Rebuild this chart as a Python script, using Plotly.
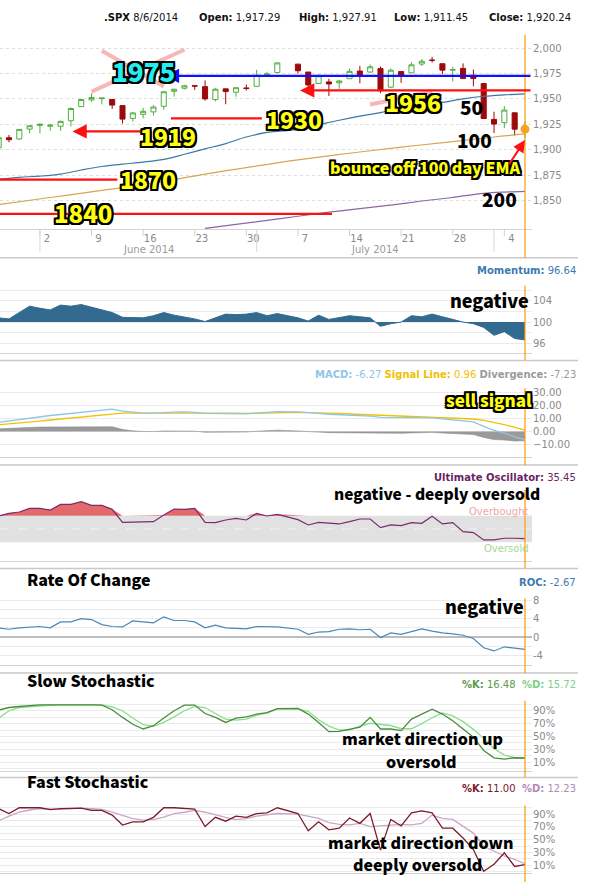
import numpy as np
import plotly.graph_objects as go
from plotly.subplots import make_subplots

W, H = 590, 882
PW = 532  # plot width in px (margin l=0, r=58)

# ---------------- data ----------------
dates = ["2014-05-27", "2014-05-28", "2014-05-29", "2014-05-30",
         "2014-06-02", "2014-06-03", "2014-06-04", "2014-06-05", "2014-06-06",
         "2014-06-09", "2014-06-10", "2014-06-11", "2014-06-12", "2014-06-13",
         "2014-06-16", "2014-06-17", "2014-06-18", "2014-06-19", "2014-06-20",
         "2014-06-23", "2014-06-24", "2014-06-25", "2014-06-26", "2014-06-27",
         "2014-06-30", "2014-07-01", "2014-07-02", "2014-07-03",
         "2014-07-07", "2014-07-08", "2014-07-09", "2014-07-10", "2014-07-11",
         "2014-07-14", "2014-07-15", "2014-07-16", "2014-07-17", "2014-07-18",
         "2014-07-21", "2014-07-22", "2014-07-23", "2014-07-24", "2014-07-25",
         "2014-07-28", "2014-07-29", "2014-07-30", "2014-07-31", "2014-08-01",
         "2014-08-04", "2014-08-05", "2014-08-06"]

opens = [1902.0, 1911.8, 1910.6, 1920.3, 1923.9, 1923.1, 1923.1, 1928.5, 1942.4,
         1949.0, 1950.3, 1949.4, 1943.4, 1930.8, 1934.8, 1937.2, 1942.7, 1957.5, 1960.5,
         1962.9, 1962.0, 1949.3, 1959.9, 1956.6, 1960.8, 1962.3, 1973.1, 1975.9,
         1984.2, 1976.4, 1965.1, 1966.7, 1965.8, 1969.9, 1977.4, 1976.4, 1979.8, 1961.5,
         1976.9, 1975.7, 1984.3, 1988.1, 1984.6, 1978.3, 1980.0, 1973.2, 1965.1, 1929.8,
         1926.6, 1936.3, 1917.29]
highs = [1912.3, 1914.5, 1920.0, 1924.0, 1925.9, 1925.1, 1928.6, 1941.7, 1949.4,
         1955.6, 1950.9, 1949.4, 1943.4, 1937.3, 1941.2, 1943.7, 1957.7, 1959.9, 1963.9,
         1963.7, 1968.2, 1960.8, 1959.9, 1961.5, 1964.2, 1978.6, 1976.7, 1985.6,
         1984.2, 1976.4, 1974.2, 1969.8, 1968.7, 1979.9, 1982.5, 1983.9, 1981.8, 1979.9,
         1976.9, 1986.2, 1989.2, 1991.4, 1984.6, 1981.5, 1984.9, 1978.9, 1965.1, 1937.4,
         1942.9, 1936.3, 1927.91]
lows = [1902.0, 1907.3, 1909.8, 1916.0, 1916.0, 1918.8, 1918.6, 1922.9, 1942.4,
        1947.2, 1944.6, 1940.1, 1925.8, 1927.7, 1930.9, 1933.6, 1939.3, 1952.3, 1959.2,
        1958.9, 1948.3, 1947.5, 1944.7, 1952.2, 1958.2, 1962.3, 1972.6, 1975.9,
        1974.9, 1959.5, 1965.1, 1952.9, 1959.6, 1969.9, 1965.3, 1975.7, 1955.6, 1960.8,
        1965.8, 1975.7, 1982.4, 1985.8, 1974.4, 1967.3, 1970.0, 1962.4, 1930.7, 1916.4,
        1921.2, 1913.8, 1911.45]
closes = [1911.9, 1909.8, 1920.0, 1923.6, 1925.0, 1924.2, 1927.9, 1940.5, 1949.4,
          1951.3, 1950.8, 1943.9, 1930.1, 1936.2, 1937.8, 1942.0, 1957.0, 1959.5, 1962.9,
          1962.6, 1950.0, 1959.5, 1957.2, 1961.0, 1960.2, 1973.3, 1974.6, 1985.4,
          1977.7, 1963.7, 1972.8, 1964.7, 1967.6, 1977.1, 1973.3, 1981.6, 1958.1, 1978.2,
          1973.6, 1983.5, 1987.0, 1988.0, 1978.3, 1978.9, 1970.0, 1970.1, 1930.7, 1925.2,
          1939.0, 1920.2, 1920.24]

ma50_dates = ["2014-05-27", "2014-05-29", "2014-06-02", "2014-06-04", "2014-06-06",
              "2014-06-10", "2014-06-12", "2014-06-16", "2014-06-18", "2014-06-20",
              "2014-06-24", "2014-06-26", "2014-06-30", "2014-07-02", "2014-07-07",
              "2014-07-09", "2014-07-11", "2014-07-15", "2014-07-17", "2014-07-21",
              "2014-07-23", "2014-07-25", "2014-07-29", "2014-07-31", "2014-08-04",
              "2014-08-06"]
ma50 = [1871, 1872.8, 1874, 1876, 1880, 1883.5, 1885.8, 1887.8, 1890.5, 1895.5,
        1900.8, 1906, 1912.5, 1917, 1920, 1924.5, 1929, 1933, 1936.5, 1940.5,
        1943.5, 1946.5, 1950, 1952.6, 1954, 1955]

ema100_dates = ["2014-05-27", "2014-06-03", "2014-06-10", "2014-06-17", "2014-06-24",
                "2014-07-01", "2014-07-07", "2014-07-14", "2014-07-21", "2014-07-28",
                "2014-08-01", "2014-08-06"]
ema100 = [1846, 1853, 1860, 1867, 1876, 1884, 1890, 1896.5, 1902.5, 1908, 1912.5, 1915.5]

sma200_dates = ["2014-06-24", "2014-06-27", "2014-07-02", "2014-07-07", "2014-07-10",
                "2014-07-15", "2014-07-18", "2014-07-23", "2014-07-28", "2014-07-31",
                "2014-08-04", "2014-08-06"]
sma200 = [1822.5, 1826.5, 1830.5, 1834.5, 1838.5, 1842, 1845.5, 1849.5, 1853, 1857,
          1858.3, 1859]

momentum = [100.8, 100.6, 101.8, 103.0, 102.6, 102.3, 103.2, 103.0, 103.3, 102.8,
            102.3, 101.8, 100.9, 100.8, 100.8, 101.2, 101.8, 101.3, 101.0, 100.6,
            100.1, 100.8, 101.5, 101.4, 101.5, 101.8, 101.2, 101.6,
            100.8, 100.2, 101.3, 100.5, 100.9, 101.2, 101.0, 100.8, 99.2, 99.7,
            100.0, 101.2, 101.0, 101.5, 101.0, 100.5, 100.0, 99.7, 99.0, 97.5,
            98.2, 96.9, 96.64]

macd = [7.2, 8.3, 9.3, 10.4, 11.5, 12.4, 13.2, 14.0, 15.0, 16.0, 16.9, 17.4, 15.8,
        14.8, 14.3, 14.2, 14.8, 15.0, 15.2, 14.9, 14.0, 13.9, 13.7, 13.8, 13.7, 14.3,
        14.6, 15.4,
        15.2, 14.4, 14.0, 13.4, 13.0, 12.6, 12.2, 12.0, 11.0, 11.0, 10.6, 10.6, 10.6,
        10.6, 9.8, 9.2, 8.2, 7.4, 4.0, 0.8, -1.2, -4.2, -6.27]
signal = [5.2, 5.8, 6.5, 7.3, 8.1, 8.9, 9.7, 10.5, 11.3, 12.2, 13.0, 13.8, 14.2,
          14.3, 14.3, 14.3, 14.4, 14.5, 14.6, 14.7, 14.6, 14.5, 14.3, 14.2, 14.1, 14.1,
          14.2, 14.4,
          14.8, 14.7, 14.5, 14.3, 14.0, 13.6, 13.3, 13.0, 12.6, 12.3, 12.0, 11.7, 11.5,
          11.3, 11.0, 10.7, 10.2, 9.7, 8.6, 7.1, 5.4, 3.2, 0.96]
divergence = [2.0, 2.5, 2.8, 3.1, 3.4, 3.5, 3.5, 3.5, 3.7, 3.8, 3.9, 3.6, 1.6, 0.5,
              0.0, -0.1, 0.4, 0.5, 0.6, 0.2, -0.6, -0.6, -0.6, -0.4, -0.4, 0.2, 0.4, 1.0,
              0.4, -0.3, -0.5, -0.9, -1.0, -1.0, -1.1, -1.0, -1.6, -1.3, -1.4, -1.1,
              -0.9, -0.7, -1.2, -1.5, -2.0, -2.3, -4.6, -6.3, -6.6, -7.4, -7.23]

ult_osc = [69.5, 73.5, 75.5, 81, 81, 78.5, 87, 87, 91, 85.5, 85.5, 79.5, 60, 60, 60.5,
           61, 71, 80, 79.5, 81, 60, 59.5, 63.5, 66, 63.5, 73.5, 69.5, 72,
           64, 56, 60, 58.5, 57.5, 61, 65, 65, 52, 56, 55, 59.5, 58.5, 69, 57.5, 59.5,
           46, 44.5, 33.5, 33.5, 36, 36, 35.45]

roc = [2.0, 1.7, 2.0, 2.2, 2.3, 2.0, 3.3, 3.3, 4.0, 3.8, 2.7, 2.3, 2.2, 3.5, 3.3, 3.1,
       4.4, 3.6, 3.6, 3.3, 2.0, 2.6, 2.0, 1.9, 1.8, 2.3, 2.3, 2.2,
       1.7, 0.6, 1.1, 1.2, 1.7, 1.8, 1.6, 1.7, -0.1, 0.9, 0.6, 1.2, 1.8, 1.3, 0.9, 0.7,
       0.4, -0.3, -2.3, -3.0, -2.1, -2.4, -2.67]

slow_k = [91, 95, 96.6, 98, 99, 99, 99.2, 99.3, 99.3, 99, 98.6, 91.5, 79.6, 69, 61.6,
          66.7, 78.6, 90, 98.8, 98.8, 85.7, 79.6, 71.8, 78.6, 80.5, 84.7, 87.2, 93.4,
          93.5, 84.8, 71.8, 57.4, 58, 61, 64.5, 79.6, 61.6, 61.6, 59, 77, 84.8, 92.5,
          84.8, 74.4, 61.6, 48.8, 28.1, 16.8, 14.7, 16.8, 16.48]
slow_d = [78.6, 90, 95, 96.5, 97.5, 98.5, 99, 99.2, 99.2, 99.2, 99, 96, 90, 78.6, 68.3,
          65.7, 71.8, 80.5, 90, 96.6, 95, 85.7, 77, 75.3, 77, 83, 86.2, 92.4,
          92.5, 89, 76, 66, 60, 60, 66, 70.5, 69, 67, 62, 62, 70, 79, 86.5, 82, 73, 61,
          47, 31, 21, 17, 15.72]
fast_k = [98.7, 91, 100, 100, 100, 97, 98.7, 99, 99.5, 96, 96, 88.5, 73, 78, 78, 85,
          100, 100, 98.7, 98, 70.5, 85, 79, 87, 85, 91, 92, 100,
          91, 64, 78, 65.4, 68, 84, 75.6, 91, 33.6, 81.8, 71.5, 92, 95, 92, 68, 68, 52.6,
          34.6, 0.3, 11.5, 29.5, 8, 11.0]
fast_d = [79.7, 87, 93, 96.5, 98.7, 98, 97.5, 98.5, 99.5, 98.5, 97.5, 93, 88.5, 83, 80.5,
          81.5, 85.5, 91, 93, 96, 93, 88.5, 85, 81.5, 83, 87, 88.5, 91,
          90, 87, 83.3, 76.7, 74.1, 73.1, 75.6, 70.5, 71.5, 73.1, 74.1, 73.1, 75.6, 88.5,
          83.3, 81.8, 70.5, 60.3, 39.7, 32, 24.4, 19.2, 12.23]

week_ticks = ["2014-06-02", "2014-06-09", "2014-06-16", "2014-06-23", "2014-06-30",
              "2014-07-07", "2014-07-14", "2014-07-21", "2014-07-28", "2014-08-04"]
week_labels = ["2", "9", "16", "23", "30", "7", "14", "21", "28", "4"]
month_starts = ["2014-06-02", "2014-07-01", "2014-08-01"]

# level lines drawn on the price panel (label, price where the line sits)
level_labels = ["1975", "1956", "1930", "1919", "1870", "1840"]
level_prices = [1972.7, 1958.3, 1930.8, 1918.0, 1870.6, 1836.8]

# ---------------- helpers ----------------
def slot(d):
    """weekday slot index (holidays keep their empty slot, weekends removed)"""
    return float(np.busday_count(dates[0], d))

x = [slot(d) for d in dates]
last_x = x[-1]

def px(v):
    return v / PW

def py(v):
    return 1 - v / H

HEAVY = "Noto Sans CJK SC, Lato, Roboto, sans-serif"
VERD = "DejaVu Sans, Verdana, sans-serif"
OUTLINE = ("-2px -2px 0 #000, 2px -2px 0 #000, -2px 2px 0 #000, 2px 2px 0 #000, "
           "0 2px 0 #000, 2px 0 0 #000, -2px 0 0 #000, 0 -2px 0 #000")

# panel pixel extents (plot top, plot bottom)
panels = [(31, 226), (283, 351), (386, 455), (488, 560), (597, 664), (700, 770), (805, 873)]
separators = [255, 358, 463, 567, 672, 777]
orange_spans = [(31, 255), (283, 358), (386, 463), (488, 567), (597, 672), (700, 777), (805, 882)]

fig = make_subplots(rows=7, cols=1)

# ---------------- price panel ----------------
fig.add_trace(go.Candlestick(
    x=x, open=opens, high=highs, low=lows, close=closes,
    increasing=dict(line=dict(color="#4fae3f", width=1), fillcolor="white"),
    decreasing=dict(line=dict(color="#9c0a0a", width=1), fillcolor="#9c0a0a"),
    whiskerwidth=0, showlegend=False), row=1, col=1)
fig.add_trace(go.Scatter(x=[slot(d) for d in ma50_dates], y=ma50, mode="lines",
                         line=dict(color="#3a78a6", width=1.2, shape="spline"),
                         showlegend=False), row=1, col=1)
fig.add_trace(go.Scatter(x=[slot(d) for d in ema100_dates], y=ema100, mode="lines",
                         line=dict(color="#d6a552", width=1.2, shape="spline"),
                         showlegend=False), row=1, col=1)
fig.add_trace(go.Scatter(x=[slot(d) for d in sma200_dates], y=sma200, mode="lines",
                         line=dict(color="#8a68a8", width=1.2, shape="spline"),
                         showlegend=False), row=1, col=1)

# ---------------- momentum ----------------
fig.add_trace(go.Scatter(x=x, y=[100] * len(x), mode="lines", line=dict(width=0),
                         showlegend=False), row=2, col=1)
fig.add_trace(go.Scatter(x=x, y=momentum, mode="lines", fill="tonexty",
                         fillcolor="#336a90", line=dict(color="#336a90", width=1),
                         showlegend=False), row=2, col=1)

# ---------------- MACD ----------------
fig.add_trace(go.Scatter(x=x, y=divergence, mode="lines", fill="tozeroy",
                         fillcolor="#9a9a9a", line=dict(color="#8a8a8a", width=0.6),
                         showlegend=False), row=3, col=1)
fig.add_trace(go.Scatter(x=x, y=signal, mode="lines", line=dict(color="#f2c200", width=1.3),
                         showlegend=False), row=3, col=1)
fig.add_trace(go.Scatter(x=x, y=macd, mode="lines", line=dict(color="#8ec6e6", width=1.3),
                         showlegend=False), row=3, col=1)

# ---------------- Ultimate oscillator ----------------
fig.add_trace(go.Scatter(x=x, y=[70] * len(x), mode="lines", line=dict(width=0),
                         showlegend=False), row=4, col=1)
fig.add_trace(go.Scatter(x=x, y=[max(v, 70) for v in ult_osc], mode="lines",
                         fill="tonexty", fillcolor="#e26a6a", line=dict(width=0),
                         showlegend=False), row=4, col=1)
fig.add_trace(go.Scatter(x=x, y=ult_osc, mode="lines", line=dict(color="#7a2a6e", width=1.2),
                         showlegend=False), row=4, col=1)

# ---------------- ROC ----------------
fig.add_trace(go.Scatter(x=x, y=roc, mode="lines", line=dict(color="#4b87b5", width=1.2),
                         showlegend=False), row=5, col=1)

# ---------------- stochastics ----------------
fig.add_trace(go.Scatter(x=x, y=slow_d, mode="lines", line=dict(color="#86e08e", width=1.3),
                         showlegend=False), row=6, col=1)
fig.add_trace(go.Scatter(x=x, y=slow_k, mode="lines", line=dict(color="#4e8c3c", width=1.3),
                         showlegend=False), row=6, col=1)
fig.add_trace(go.Scatter(x=x, y=fast_d, mode="lines", line=dict(color="#c9a6cb", width=1.3),
                         showlegend=False), row=7, col=1)
fig.add_trace(go.Scatter(x=x, y=fast_k, mode="lines", line=dict(color="#7d1c2c", width=1.3),
                         showlegend=False), row=7, col=1)

# last close dot (drawn last so it sits on top)
fig.add_trace(go.Scatter(x=[last_x], y=[closes[-1]], mode="markers",
                         marker=dict(color="#f5a623", size=9), showlegend=False), row=1, col=1)

# ---------------- axes ----------------
xr = [0.13, 51.68]
yranges = [[1822, 2013], [94.1, 106.85], [-19.8, 33.6], [1, 109], [-6.05, 8.42],
           [-3, 105.4], [-2.3, 103.8]]
for i in range(1, 8):
    sfx = "" if i == 1 else str(i)
    top, bot = panels[i - 1]
    fig.layout["yaxis" + sfx].update(
        domain=[py(bot), py(top)], range=yranges[i - 1], side="right",
        zeroline=False, showline=False, gridcolor="#ebebeb",
        tickfont=dict(family=VERD, size=10, color="#8a8a8a"), ticks="")
    fig.layout["xaxis" + sfx].update(
        domain=[0, 1], range=xr, showgrid=False, zeroline=False, showline=True,
        linecolor="#d4d4d4", linewidth=1, ticks="", showticklabels=False,
        rangeslider=dict(visible=False))

fig.layout.xaxis.update(showticklabels=True, tickvals=[slot(d) for d in week_ticks],
                        ticktext=week_labels, ticklabelshift=7,
                        tickfont=dict(family=VERD, size=10, color="#8a8a8a"))
fig.layout.yaxis.update(tickvals=[1850, 1875, 1900, 1925, 1950, 1975, 2000],
                        tickformat=",d", griddash="dot", gridcolor="#dedede")
fig.layout.yaxis2.update(tickvals=[94, 96, 98, 100, 102, 104, 106],
                         ticktext=["", "96", "", "100", "", "104", ""])
fig.layout.yaxis3.update(tickvals=[-10, 0, 10, 20, 30], tickformat=".2f")
fig.layout.yaxis4.update(showticklabels=False, showgrid=False)
fig.layout.yaxis5.update(tickvals=[-6, -4, -2, 0, 2, 4, 6, 8],
                         ticktext=["", "-4", "", "0", "", "4", "", "8"],
                         zeroline=True, zerolinecolor="#bdbdbd", zerolinewidth=2)
pct_vals = [0, 10, 20, 30, 40, 50, 60, 70, 80, 90, 100]
pct_text = ["", "10%", "", "30%", "", "50%", "", "70%", "", "90%", ""]
fig.layout.yaxis6.update(tickvals=pct_vals, ticktext=pct_text)
fig.layout.yaxis7.update(tickvals=pct_vals, ticktext=pct_text)

# ---------------- shapes ----------------
shapes = []
shapes.append(dict(type="rect", xref="x4 domain", yref="y4", x0=0, x1=1, y0=30, y1=70,
                   fillcolor="#e1e1e1", line=dict(width=0), layer="below"))
shapes.append(dict(type="line", xref="x4 domain", yref="y4", x0=0, x1=1, y0=50, y1=50,
                   line=dict(color="#f2f2f2", width=1, dash="dash"), layer="below"))
for s in separators:
    shapes.append(dict(type="line", xref="paper", yref="paper", x0=0, x1=px(578),
                       y0=py(s), y1=py(s), line=dict(color="#c9c9c9", width=1.5)))
for d in week_ticks:
    shapes.append(dict(type="line", xref="x", yref="paper", x0=slot(d), x1=slot(d),
                       y0=py(226), y1=py(233), line=dict(color="#d0d0d0", width=1)))
for d in month_starts:
    shapes.append(dict(type="line", xref="x", yref="paper", x0=slot(d), x1=slot(d),
                       y0=py(226), y1=py(249), line=dict(color="#d8d8d8", width=1)))
pink = dict(color="rgba(244,170,170,0.85)", width=4)
for (xa, ya, xb, yb) in [("2014-06-10", 1997.4, "2014-06-18", 1962.1),
                         ("2014-06-20", 1998.3, "2014-06-09", 1957.2),
                         ("2014-07-16", 1944.4, "2014-07-24", 1957.2),
                         ("2014-07-18", 1955.2, "2014-07-23", 1939.5)]:
    shapes.append(dict(type="line", xref="x", yref="y", x0=slot(xa), x1=slot(xb),
                       y0=ya, y1=yb, line=pink, layer="above"))
shapes.append(dict(type="line", xref="x", yref="y", x0=slot("2014-06-19") - 0.3,
                   x1=slot("2014-07-02") - 0.5, y0=level_prices[2], y1=level_prices[2],
                   line=dict(color="#ff1010", width=2.2), layer="above"))
shapes.append(dict(type="line", xref="x", yref="y", x0=xr[0], x1=slot("2014-06-11") + 0.5,
                   y0=level_prices[4], y1=level_prices[4],
                   line=dict(color="#ff1010", width=2.2), layer="above"))
shapes.append(dict(type="line", xref="x", yref="y", x0=xr[0], x1=slot("2014-07-10") + 0.3,
                   y0=level_prices[5], y1=level_prices[5],
                   line=dict(color="#ff1010", width=2.2), layer="above"))
for (t, b) in orange_spans:
    shapes.append(dict(type="line", xref="x", yref="paper", x0=last_x, x1=last_x,
                       y0=py(b), y1=py(t), line=dict(color="#ff9a00", width=1.2),
                       layer="above"))
fig.update_layout(shapes=shapes)

# ---------------- annotations ----------------
anns = []

def label(text, xp, yp, size, color="#000", outline=False, family=HEAVY,
          xanchor="center", weight=900):
    f = dict(family=family, size=size, color=color, weight=weight)
    if outline:
        f["shadow"] = OUTLINE
    anns.append(dict(text=text, x=px(xp), y=py(yp), xref="paper", yref="paper",
                     showarrow=False, xanchor=xanchor, yanchor="middle", font=f))

def arrow(color, head_x, tail_x, price, width=2.2):
    anns.append(dict(x=head_x, y=price, ax=tail_x, ay=price, xref="x", yref="y",
                     axref="x", ayref="y", text="", showarrow=True, arrowhead=2,
                     arrowsize=1.3, arrowwidth=width, arrowcolor=color))

arrow("#1010ff", slot("2014-06-18") + 0.1, xr[1], level_prices[0])
arrow("#ff1010", slot("2014-07-07") + 0.2, xr[1], level_prices[1])
arrow("#ff1010", slot("2014-06-05") + 0.15, slot("2014-06-16") + 0.1, level_prices[3])

label(level_labels[0], 143, 67, 26, color="#22eef0", outline=True)
label(level_labels[1], 413, 98, 23, color="#ffff10", outline=True)
label(level_labels[2], 294, 116, 23, color="#ffff10", outline=True)
label(level_labels[3], 168, 133, 23, color="#ffff10", outline=True)
label(level_labels[4], 148, 176, 23, color="#ffff10", outline=True)
label(level_labels[5], 83, 209, 24, color="#ffff10", outline=True)

label("50", 471, 103, 19)
label("100", 474, 136, 19)
label("200", 499, 195, 19)
label("bounce off 100 day EMA", 425, 164, 16, color="#ffff10", outline=True)
anns.append(dict(x=last_x, y=1909.5, xref="x", yref="y", ax=-17, ay=26, text="",
                 showarrow=True, arrowhead=2, arrowsize=1.2, arrowwidth=2,
                 arrowcolor="#ff1010"))

label("negative", 489, 297, 18)
label("sell signal", 489, 397, 17, color="#ffff10", outline=True)
label("negative - deeply oversold", 437, 491, 15.5)
label("negative", 484, 605, 18)
label("market direction up", 422, 737, 16)
label("oversold", 421, 760, 16)
label("market direction down", 421, 842, 16)
label("deeply oversold", 417, 864, 16)

label("Rate Of Change", 25, 578, 16, xanchor="left")
label("Slow Stochastic", 25, 679, 16, xanchor="left")
label("Fast Stochastic", 25, 781, 16, xanchor="left")

def rtitle(html, yp):
    anns.append(dict(text=html, x=px(578), y=py(yp), xref="paper", yref="paper",
                     showarrow=False, xanchor="right", yanchor="middle",
                     font=dict(family=VERD, size=10)))

rtitle("<span style='color:#3d7ab0'><b>Momentum:</b> 96.64</span>", 268)
rtitle("<span style='color:#8ec6e6'><b>MACD:</b> -6.27</span> "
       "<span style='color:#efbf00'><b>Signal Line:</b> 0.96</span> "
       "<span style='color:#9a9a9a'><b>Divergence:</b> -7.23</span>", 372)
rtitle("<span style='color:#6b1f66'><b>Ultimate Oscillator:</b> 35.45</span>", 476)
rtitle("<span style='color:#3d7ab0'><b>ROC:</b> -2.67</span>", 581)
rtitle("<span style='color:#5b9a4a'><b>%K:</b> 16.48</span>  "
       "<span style='color:#7ed08a'><b>%D:</b> 15.72</span>", 684)
rtitle("<span style='color:#7a1a2a'><b>%K:</b> 11.00</span>  "
       "<span style='color:#b48ab8'><b>%D:</b> 12.23</span>", 788)

anns.append(dict(text="Overbought", x=px(531), y=py(509.5), xref="paper", yref="paper",
                 showarrow=False, xanchor="right", yanchor="middle",
                 font=dict(family=VERD, size=10, color="#f0a6a6")))
anns.append(dict(text="Oversold", x=px(531), y=py(547), xref="paper", yref="paper",
                 showarrow=False, xanchor="right", yanchor="middle",
                 font=dict(family=VERD, size=10, color="#a6d896")))

for t, xc in [("June 2014", 148), ("July 2014", 375)]:
    anns.append(dict(text=t, x=px(xc), y=py(247), xref="paper", yref="paper",
                     showarrow=False, xanchor="center", yanchor="middle",
                     font=dict(family=VERD, size=10, color="#9a9a9a")))

header = [("<b>.SPX</b> 8/6/2014", 102), ("<b>Open:</b> 1,917.29", 197),
          ("<b>High:</b> 1,927.91", 297), ("<b>Low:</b> 1,911.45", 392),
          ("<b>Close:</b> 1,920.24", 487)]
for t, xl in header:
    anns.append(dict(text=t, x=px(xl), y=py(14), xref="paper", yref="paper",
                     showarrow=False, xanchor="left", yanchor="middle",
                     font=dict(family=VERD, size=10, color="#111")))

fig.update_layout(annotations=anns)

fig.update_layout(width=W, height=H, margin=dict(l=0, r=W - PW, t=0, b=0),
                  paper_bgcolor="white", plot_bgcolor="white", showlegend=False,
                  hovermode=False)

fig.write_html("out.html", config={"displayModeBar": False},
               post_script="document.body.style.margin='0';"
                           "document.body.style.overflow='hidden';")
